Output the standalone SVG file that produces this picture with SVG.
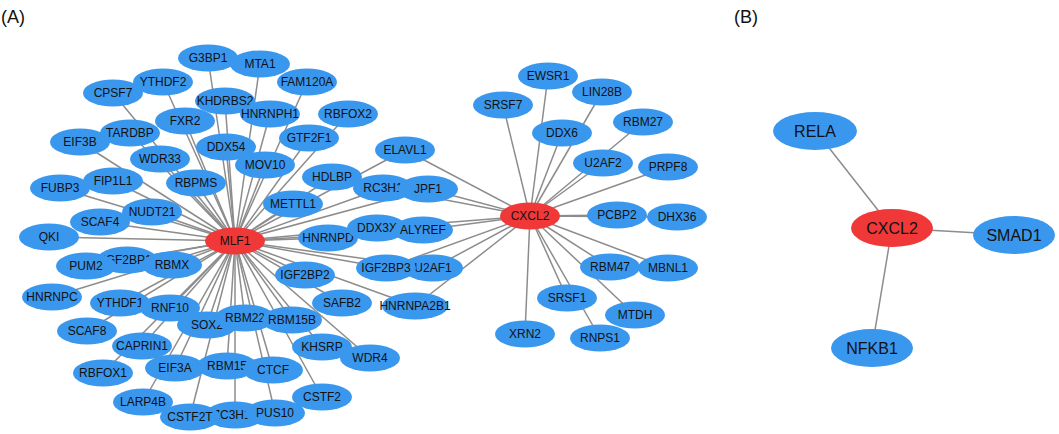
<svg xmlns="http://www.w3.org/2000/svg" width="1059" height="434" viewBox="0 0 1059 434">
<style>
.e line{stroke:#8c8c8c;stroke-width:1.5}
.n ellipse{fill:#3a97ee}
.r ellipse{fill:#f03838}
text{font-family:"Liberation Sans",Arial,sans-serif;font-size:12px;fill:#111;text-anchor:middle}
.b text{font-size:16px}
.lab{font-size:18px;text-anchor:start}
</style>
<rect width="1059" height="434" fill="#fff"/>
<text class="lab" x="1" y="23">(A)</text>
<text class="lab" x="734" y="23">(B)</text>
<g id="connectors" class="e">
<!-- MLF1 edges -->
<line x1="235" y1="241" x2="208" y2="58"/>
<line x1="235" y1="241" x2="260" y2="64"/>
<line x1="235" y1="241" x2="307" y2="82"/>
<line x1="235" y1="241" x2="163" y2="82"/>
<line x1="235" y1="241" x2="113" y2="93"/>
<line x1="235" y1="241" x2="225" y2="101"/>
<line x1="235" y1="241" x2="270" y2="114"/>
<line x1="235" y1="241" x2="348" y2="114"/>
<line x1="235" y1="241" x2="185" y2="121"/>
<line x1="235" y1="241" x2="130" y2="133"/>
<line x1="235" y1="241" x2="80" y2="142"/>
<line x1="235" y1="241" x2="309" y2="138"/>
<line x1="235" y1="241" x2="226" y2="147"/>
<line x1="235" y1="241" x2="160" y2="159"/>
<line x1="235" y1="241" x2="265" y2="165"/>
<line x1="235" y1="241" x2="405" y2="150"/>
<line x1="235" y1="241" x2="60" y2="188"/>
<line x1="235" y1="241" x2="113" y2="181"/>
<line x1="235" y1="241" x2="196" y2="183"/>
<line x1="235" y1="241" x2="332" y2="177"/>
<line x1="235" y1="241" x2="383" y2="188"/>
<line x1="235" y1="241" x2="428" y2="189"/>
<line x1="235" y1="241" x2="293" y2="204"/>
<line x1="235" y1="241" x2="152" y2="212"/>
<line x1="235" y1="241" x2="100" y2="222"/>
<line x1="235" y1="241" x2="49" y2="237"/>
<line x1="235" y1="241" x2="328" y2="238"/>
<line x1="235" y1="241" x2="377" y2="228"/>
<line x1="235" y1="241" x2="423" y2="230"/>
<line x1="235" y1="241" x2="127" y2="260"/>
<line x1="235" y1="241" x2="86" y2="266"/>
<line x1="235" y1="241" x2="172" y2="265"/>
<line x1="235" y1="241" x2="305" y2="275"/>
<line x1="235" y1="241" x2="386" y2="268"/>
<line x1="235" y1="241" x2="433" y2="268"/>
<line x1="235" y1="241" x2="415" y2="306"/>
<line x1="235" y1="241" x2="342" y2="303"/>
<line x1="235" y1="241" x2="52" y2="297"/>
<line x1="235" y1="241" x2="120" y2="303"/>
<line x1="235" y1="241" x2="170" y2="308"/>
<line x1="235" y1="241" x2="207" y2="325"/>
<line x1="235" y1="241" x2="245" y2="318"/>
<line x1="235" y1="241" x2="292" y2="320"/>
<line x1="235" y1="241" x2="142" y2="346"/>
<line x1="235" y1="241" x2="87" y2="331"/>
<line x1="235" y1="241" x2="103" y2="373"/>
<line x1="235" y1="241" x2="175" y2="368"/>
<line x1="235" y1="241" x2="227" y2="366"/>
<line x1="235" y1="241" x2="273" y2="370"/>
<line x1="235" y1="241" x2="322" y2="347"/>
<line x1="235" y1="241" x2="370" y2="358"/>
<line x1="235" y1="241" x2="322" y2="397"/>
<line x1="235" y1="241" x2="143" y2="402"/>
<line x1="235" y1="241" x2="190" y2="417"/>
<line x1="235" y1="241" x2="235" y2="415"/>
<line x1="235" y1="241" x2="275" y2="413"/>
<!-- CXCL2 (A) edges -->
<line x1="530" y1="216" x2="405" y2="150"/>
<line x1="530" y1="216" x2="383" y2="188"/>
<line x1="530" y1="216" x2="428" y2="189"/>
<line x1="530" y1="216" x2="377" y2="228"/>
<line x1="530" y1="216" x2="423" y2="230"/>
<line x1="530" y1="216" x2="386" y2="268"/>
<line x1="530" y1="216" x2="433" y2="268"/>
<line x1="530" y1="216" x2="415" y2="306"/>
<line x1="530" y1="216" x2="503" y2="105"/>
<line x1="530" y1="216" x2="548" y2="76"/>
<line x1="530" y1="216" x2="602" y2="92"/>
<line x1="530" y1="216" x2="562" y2="133"/>
<line x1="530" y1="216" x2="643" y2="122"/>
<line x1="530" y1="216" x2="603" y2="163"/>
<line x1="530" y1="216" x2="668" y2="167"/>
<line x1="530" y1="216" x2="617" y2="215"/>
<line x1="530" y1="216" x2="677" y2="217"/>
<line x1="530" y1="216" x2="610" y2="267"/>
<line x1="530" y1="216" x2="668" y2="268"/>
<line x1="530" y1="216" x2="567" y2="298"/>
<line x1="530" y1="216" x2="635" y2="315"/>
<line x1="530" y1="216" x2="525" y2="334"/>
<line x1="530" y1="216" x2="600" y2="338"/>
<!-- (B) edges -->
<line x1="815" y1="130" x2="892" y2="228"/>
<line x1="892" y1="228" x2="1013" y2="235"/>
<line x1="892" y1="228" x2="872" y2="348"/>
</g>
<g id="nodes">
<g id="G3BP1" class="n"><ellipse cx="208" cy="58" rx="30" ry="13.5"/><text x="208" y="62">G3BP1</text></g>
<g id="MTA1" class="n"><ellipse cx="260" cy="64" rx="30" ry="13.5"/><text x="260" y="68">MTA1</text></g>
<g id="FAM120A" class="n"><ellipse cx="307" cy="82" rx="30" ry="13.5"/><text x="307" y="86">FAM120A</text></g>
<g id="CPSF7" class="n"><ellipse cx="113" cy="93" rx="30" ry="13.5"/><text x="113" y="97">CPSF7</text></g>
<g id="YTHDF2" class="n"><ellipse cx="163" cy="82" rx="30" ry="13.5"/><text x="163" y="86">YTHDF2</text></g>
<g id="KHDRBS2" class="n"><ellipse cx="225" cy="101" rx="30" ry="13.5"/><text x="225" y="105">KHDRBS2</text></g>
<g id="HNRNPH1" class="n"><ellipse cx="270" cy="114" rx="30" ry="13.5"/><text x="270" y="118">HNRNPH1</text></g>
<g id="FXR2" class="n"><ellipse cx="185" cy="121" rx="30" ry="13.5"/><text x="185" y="125">FXR2</text></g>
<g id="RBFOX2" class="n"><ellipse cx="348" cy="114" rx="30" ry="13.5"/><text x="348" y="118">RBFOX2</text></g>
<g id="GTF2F1" class="n"><ellipse cx="309" cy="138" rx="30" ry="13.5"/><text x="309" y="142">GTF2F1</text></g>
<g id="EIF3B" class="n"><ellipse cx="80" cy="142" rx="30" ry="13.5"/><text x="80" y="146">EIF3B</text></g>
<g id="TARDBP" class="n"><ellipse cx="130" cy="133" rx="30" ry="13.5"/><text x="130" y="137">TARDBP</text></g>
<g id="WDR33" class="n"><ellipse cx="160" cy="159" rx="30" ry="13.5"/><text x="160" y="163">WDR33</text></g>
<g id="DDX54" class="n"><ellipse cx="226" cy="147" rx="30" ry="13.5"/><text x="226" y="151">DDX54</text></g>
<g id="MOV10" class="n"><ellipse cx="265" cy="165" rx="30" ry="13.5"/><text x="265" y="169">MOV10</text></g>
<g id="ELAVL1" class="n"><ellipse cx="405" cy="150" rx="30" ry="13.5"/><text x="405" y="154">ELAVL1</text></g>
<g id="FUBP3" class="n"><ellipse cx="60" cy="188" rx="30" ry="13.5"/><text x="60" y="192">FUBP3</text></g>
<g id="FIP1L1" class="n"><ellipse cx="113" cy="181" rx="30" ry="13.5"/><text x="113" y="185">FIP1L1</text></g>
<g id="SCAF4" class="n"><ellipse cx="100" cy="222" rx="30" ry="13.5"/><text x="100" y="226">SCAF4</text></g>
<g id="NUDT21" class="n"><ellipse cx="152" cy="212" rx="30" ry="13.5"/><text x="152" y="216">NUDT21</text></g>
<g id="RBPMS" class="n"><ellipse cx="196" cy="183" rx="30" ry="13.5"/><text x="196" y="187">RBPMS</text></g>
<g id="HDLBP" class="n"><ellipse cx="332" cy="177" rx="30" ry="13.5"/><text x="332" y="181">HDLBP</text></g>
<g id="RC3H1" class="n"><ellipse cx="383" cy="188" rx="30" ry="13.5"/><text x="383" y="192">RC3H1</text></g>
<g id="JPF1" class="n"><ellipse cx="428" cy="189" rx="30" ry="13.5"/><text x="428" y="193">JPF1</text></g>
<g id="METTL1" class="n"><ellipse cx="293" cy="204" rx="30" ry="13.5"/><text x="293" y="208">METTL1</text></g>
<g id="QKI" class="n"><ellipse cx="49" cy="237" rx="30" ry="13.5"/><text x="49" y="241">QKI</text></g>
<g id="HNRNPD" class="n"><ellipse cx="328" cy="238" rx="30" ry="13.5"/><text x="328" y="242">HNRNPD</text></g>
<g id="DDX3X" class="n"><ellipse cx="377" cy="228" rx="30" ry="13.5"/><text x="377" y="232">DDX3X</text></g>
<g id="ALYREF" class="n"><ellipse cx="423" cy="230" rx="30" ry="13.5"/><text x="423" y="234">ALYREF</text></g>
<g id="IGF2BP1" class="n"><ellipse cx="127" cy="260" rx="30" ry="13.5"/><text x="127" y="264">IGF2BP1</text></g>
<g id="PUM2" class="n"><ellipse cx="86" cy="266" rx="30" ry="13.5"/><text x="86" y="270">PUM2</text></g>
<g id="RBMX" class="n"><ellipse cx="172" cy="265" rx="30" ry="13.5"/><text x="172" y="269">RBMX</text></g>
<g id="U2AF1" class="n"><ellipse cx="433" cy="268" rx="30" ry="13.5"/><text x="433" y="272">U2AF1</text></g>
<g id="IGF2BP3" class="n"><ellipse cx="386" cy="268" rx="30" ry="13.5"/><text x="386" y="272">IGF2BP3</text></g>
<g id="IGF2BP2" class="n"><ellipse cx="305" cy="275" rx="30" ry="13.5"/><text x="305" y="279">IGF2BP2</text></g>
<g id="SAFB2" class="n"><ellipse cx="342" cy="303" rx="30" ry="13.5"/><text x="342" y="307">SAFB2</text></g>
<g id="HNRNPA2B1" class="n"><ellipse cx="415" cy="306" rx="33" ry="13.5"/><text x="415" y="310">HNRNPA2B1</text></g>
<g id="HNRNPC" class="n"><ellipse cx="52" cy="297" rx="30" ry="13.5"/><text x="52" y="301">HNRNPC</text></g>
<g id="YTHDF1" class="n"><ellipse cx="120" cy="303" rx="30" ry="13.5"/><text x="120" y="307">YTHDF1</text></g>
<g id="RNF10" class="n"><ellipse cx="170" cy="308" rx="30" ry="13.5"/><text x="170" y="312">RNF10</text></g>
<g id="SOX2" class="n"><ellipse cx="207" cy="325" rx="30" ry="13.5"/><text x="207" y="329">SOX2</text></g>
<g id="RBM22" class="n"><ellipse cx="245" cy="318" rx="30" ry="13.5"/><text x="245" y="322">RBM22</text></g>
<g id="RBM15B" class="n"><ellipse cx="292" cy="320" rx="30" ry="13.5"/><text x="292" y="324">RBM15B</text></g>
<g id="SCAF8" class="n"><ellipse cx="87" cy="331" rx="30" ry="13.5"/><text x="87" y="335">SCAF8</text></g>
<g id="CAPRIN1" class="n"><ellipse cx="142" cy="346" rx="30" ry="13.5"/><text x="142" y="350">CAPRIN1</text></g>
<g id="RBFOX1" class="n"><ellipse cx="103" cy="373" rx="30" ry="13.5"/><text x="103" y="377">RBFOX1</text></g>
<g id="EIF3A" class="n"><ellipse cx="175" cy="368" rx="30" ry="13.5"/><text x="175" y="372">EIF3A</text></g>
<g id="RBM15" class="n"><ellipse cx="227" cy="366" rx="30" ry="13.5"/><text x="227" y="370">RBM15</text></g>
<g id="CTCF" class="n"><ellipse cx="273" cy="370" rx="30" ry="13.5"/><text x="273" y="374">CTCF</text></g>
<g id="KHSRP" class="n"><ellipse cx="322" cy="347" rx="30" ry="13.5"/><text x="322" y="351">KHSRP</text></g>
<g id="WDR4" class="n"><ellipse cx="370" cy="358" rx="30" ry="13.5"/><text x="370" y="362">WDR4</text></g>
<g id="CSTF2" class="n"><ellipse cx="322" cy="397" rx="30" ry="13.5"/><text x="322" y="401">CSTF2</text></g>
<g id="LARP4B" class="n"><ellipse cx="143" cy="402" rx="30" ry="13.5"/><text x="143" y="406">LARP4B</text></g>
<g id="ZC3H13" class="n"><ellipse cx="235" cy="415" rx="30" ry="13.5"/><text x="235" y="419">ZC3H13</text></g>
<g id="CSTF2T" class="n"><ellipse cx="190" cy="417" rx="30" ry="13.5"/><text x="190" y="421">CSTF2T</text></g>
<g id="PUS10" class="n"><ellipse cx="275" cy="413" rx="30" ry="13.5"/><text x="275" y="417">PUS10</text></g>
<g id="MLF1" class="r"><ellipse cx="235" cy="241" rx="30" ry="13.5"/><text x="235" y="245">MLF1</text></g>
<g id="CXCL2" class="r"><ellipse cx="530" cy="216" rx="30" ry="13.5"/><text x="530" y="220">CXCL2</text></g>
<g id="EWSR1" class="n"><ellipse cx="548" cy="76" rx="30" ry="13.5"/><text x="548" y="80">EWSR1</text></g>
<g id="LIN28B" class="n"><ellipse cx="602" cy="92" rx="30" ry="13.5"/><text x="602" y="96">LIN28B</text></g>
<g id="SRSF7" class="n"><ellipse cx="503" cy="105" rx="30" ry="13.5"/><text x="503" y="109">SRSF7</text></g>
<g id="RBM27" class="n"><ellipse cx="643" cy="122" rx="30" ry="13.5"/><text x="643" y="126">RBM27</text></g>
<g id="DDX6" class="n"><ellipse cx="562" cy="133" rx="30" ry="13.5"/><text x="562" y="137">DDX6</text></g>
<g id="U2AF2" class="n"><ellipse cx="603" cy="163" rx="30" ry="13.5"/><text x="603" y="167">U2AF2</text></g>
<g id="PRPF8" class="n"><ellipse cx="668" cy="167" rx="30" ry="13.5"/><text x="668" y="171">PRPF8</text></g>
<g id="PCBP2" class="n"><ellipse cx="617" cy="215" rx="30" ry="13.5"/><text x="617" y="219">PCBP2</text></g>
<g id="DHX36" class="n"><ellipse cx="677" cy="217" rx="30" ry="13.5"/><text x="677" y="221">DHX36</text></g>
<g id="RBM47" class="n"><ellipse cx="610" cy="267" rx="30" ry="13.5"/><text x="610" y="271">RBM47</text></g>
<g id="MBNL1" class="n"><ellipse cx="668" cy="268" rx="30" ry="13.5"/><text x="668" y="272">MBNL1</text></g>
<g id="SRSF1" class="n"><ellipse cx="567" cy="298" rx="30" ry="13.5"/><text x="567" y="302">SRSF1</text></g>
<g id="MTDH" class="n"><ellipse cx="635" cy="315" rx="30" ry="13.5"/><text x="635" y="319">MTDH</text></g>
<g id="XRN2" class="n"><ellipse cx="525" cy="334" rx="30" ry="13.5"/><text x="525" y="338">XRN2</text></g>
<g id="RNPS1" class="n"><ellipse cx="600" cy="338" rx="30" ry="13.5"/><text x="600" y="342">RNPS1</text></g>
</g>
<g id="panelB" class="b">
<g id="B-RELA" class="n"><ellipse cx="815" cy="131" rx="42" ry="19"/><text x="815" y="137">RELA</text></g>
<g id="B-CXCL2" class="r"><ellipse cx="892" cy="228" rx="41" ry="19"/><text x="892" y="234">CXCL2</text></g>
<g id="B-SMAD1" class="n"><ellipse cx="1014" cy="235" rx="41" ry="19"/><text x="1014" y="241">SMAD1</text></g>
<g id="B-NFKB1" class="n"><ellipse cx="872" cy="348" rx="41" ry="19"/><text x="872" y="354">NFKB1</text></g>
</g>
</svg>
